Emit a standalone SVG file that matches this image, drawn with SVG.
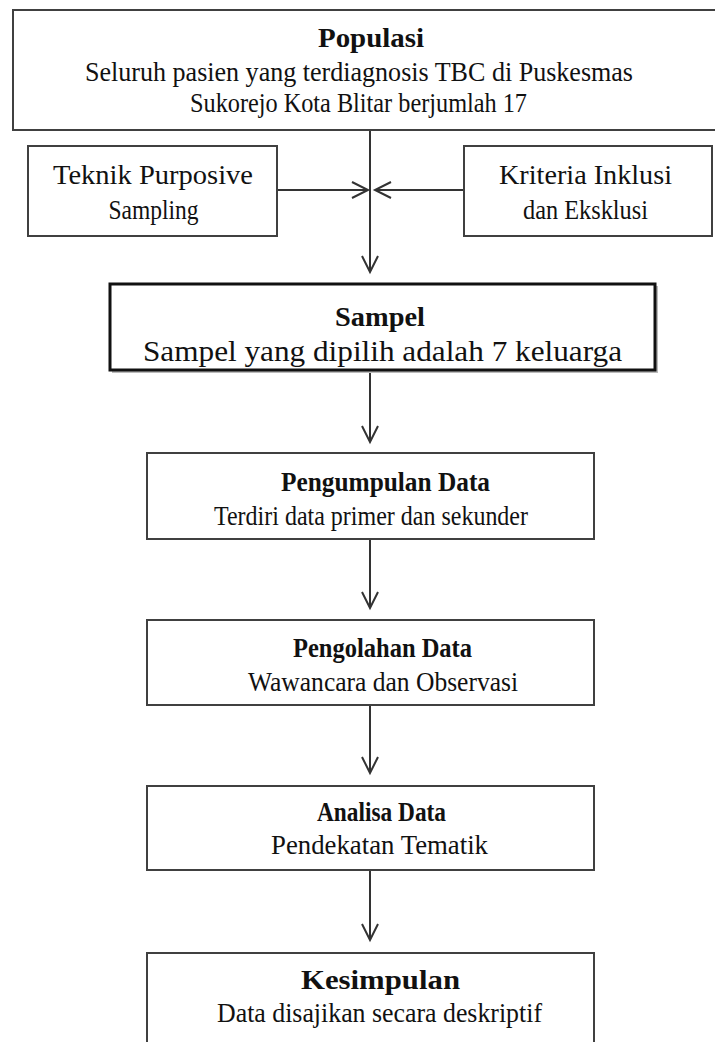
<svg xmlns="http://www.w3.org/2000/svg" width="715" height="1042" viewBox="0 0 715 1042">
<defs>
<style>
.box{fill:#fff;stroke:#404040;stroke-width:2}
.sbox{fill:#fff;stroke:#111;stroke-width:3}
.t{font-family:"Liberation Serif","Times New Roman",serif;font-size:28px;fill:#111;text-anchor:middle}
.b{font-weight:bold}
.ln{stroke:#333;stroke-width:2;fill:none}
</style>
<marker id="ah" viewBox="0 0 20 20" refX="17" refY="10" markerWidth="20" markerHeight="20" markerUnits="userSpaceOnUse" orient="auto">
<path d="M1,2 L17,10 L1,18" fill="none" stroke="#333" stroke-width="2"/>
</marker>
</defs>
<rect width="715" height="1042" fill="#fff"/>
<g id="connectors">
<line class="ln" x1="370" y1="130" x2="370" y2="272" marker-end="url(#ah)"/>
<line class="ln" x1="277" y1="190" x2="368" y2="190" marker-end="url(#ah)"/>
<line class="ln" x1="464" y1="190" x2="375" y2="190" marker-end="url(#ah)"/>
<line class="ln" x1="370" y1="372" x2="370" y2="442" marker-end="url(#ah)"/>
<line class="ln" x1="370" y1="539" x2="370" y2="608" marker-end="url(#ah)"/>
<line class="ln" x1="370" y1="705" x2="370" y2="773" marker-end="url(#ah)"/>
<line class="ln" x1="370" y1="870" x2="370" y2="940" marker-end="url(#ah)"/>
</g>
<g id="populasi">
<rect class="box" x="13" y="10" width="720" height="120"/>
<text class="t b" x="371" y="47" textLength="106" lengthAdjust="spacingAndGlyphs">Populasi</text>
<text class="t" x="359" y="81" textLength="548" lengthAdjust="spacingAndGlyphs">Seluruh pasien yang terdiagnosis TBC di Puskesmas</text>
<text class="t" x="358.5" y="112" textLength="337" lengthAdjust="spacingAndGlyphs">Sukorejo Kota Blitar berjumlah 17</text>
</g>
<g id="teknik">
<rect class="box" x="28" y="146" width="249" height="90"/>
<text class="t" x="153" y="184" textLength="200" lengthAdjust="spacingAndGlyphs">Teknik Purposive</text>
<text class="t" x="153.5" y="219" textLength="90" lengthAdjust="spacingAndGlyphs">Sampling</text>
</g>
<g id="kriteria">
<rect class="box" x="464" y="146" width="248" height="90"/>
<text class="t" x="585.5" y="184" textLength="173" lengthAdjust="spacingAndGlyphs">Kriteria Inklusi</text>
<text class="t" x="585.5" y="219" textLength="125" lengthAdjust="spacingAndGlyphs">dan Eksklusi</text>
</g>
<g id="sampel">
<rect x="112" y="286" width="546" height="87" fill="#bbb"/>
<rect class="sbox" x="110" y="284" width="545" height="86"/>
<text class="t b" x="380" y="326" textLength="90" lengthAdjust="spacingAndGlyphs">Sampel</text>
<text class="t" x="382.5" y="361" style="font-size:30px" textLength="479" lengthAdjust="spacingAndGlyphs">Sampel yang dipilih adalah 7 keluarga</text>
</g>
<g id="pengumpulan">
<rect class="box" x="147" y="453" width="447" height="86"/>
<text class="t b" x="385.5" y="491" textLength="209" lengthAdjust="spacingAndGlyphs">Pengumpulan Data</text>
<text class="t" x="371" y="525" textLength="314" lengthAdjust="spacingAndGlyphs">Terdiri data primer dan sekunder</text>
</g>
<g id="pengolahan">
<rect class="box" x="147" y="620" width="447" height="85"/>
<text class="t b" x="382.5" y="657" textLength="179" lengthAdjust="spacingAndGlyphs">Pengolahan Data</text>
<text class="t" x="383" y="691" textLength="270" lengthAdjust="spacingAndGlyphs">Wawancara dan Observasi</text>
</g>
<g id="analisa">
<rect class="box" x="147" y="786" width="447" height="84"/>
<text class="t b" x="381.5" y="821" textLength="129" lengthAdjust="spacingAndGlyphs">Analisa Data</text>
<text class="t" x="379.5" y="854" textLength="217" lengthAdjust="spacingAndGlyphs">Pendekatan Tematik</text>
</g>
<g id="kesimpulan">
<rect class="box" x="147" y="953" width="447" height="100"/>
<text class="t b" x="380.5" y="989" textLength="159" lengthAdjust="spacingAndGlyphs">Kesimpulan</text>
<text class="t" x="379.5" y="1022" textLength="325" lengthAdjust="spacingAndGlyphs">Data disajikan secara deskriptif</text>
</g>
</svg>
